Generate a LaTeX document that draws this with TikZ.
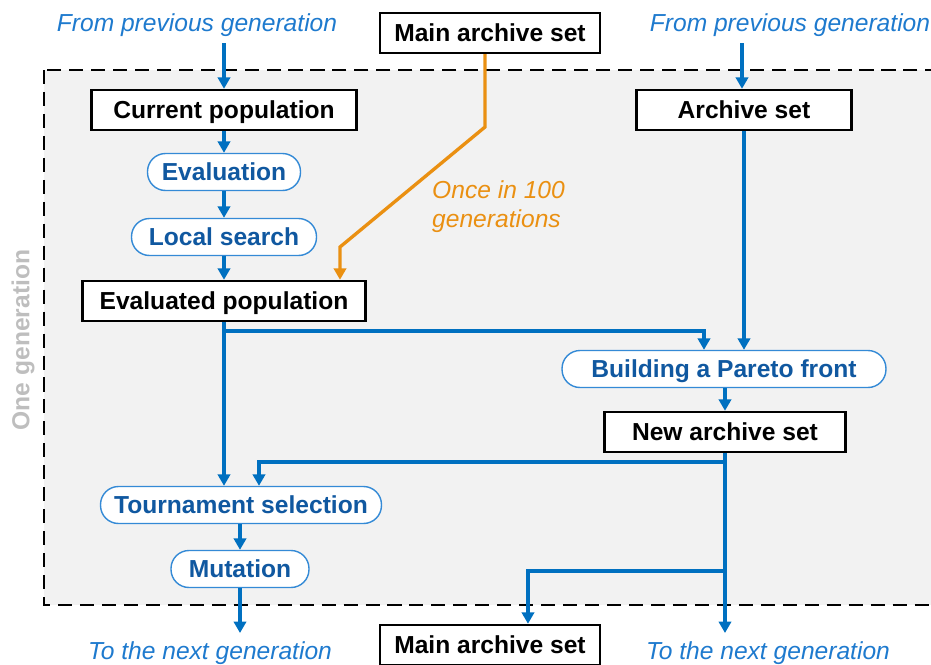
\documentclass[tikz,border=0pt]{standalone}
\usepackage{fontspec}
\setmainfont{Liberation Sans}
\usetikzlibrary{arrows.meta}

\definecolor{flowblue}{RGB}{0,112,192}
\definecolor{proctext}{RGB}{16,88,160}
\definecolor{procline}{RGB}{52,138,214}
\definecolor{labelblue}{RGB}{30,122,206}
\definecolor{rareorange}{RGB}{234,144,18}
\definecolor{genfill}{RGB}{242,242,242}
\definecolor{gentext}{RGB}{190,190,190}

\begin{document}
\begin{tikzpicture}[x=0.02cm, y=-0.02cm,
        databox/.style={draw, line width=1.4pt, fill=white, inner sep=0pt,
            minimum height=0.8cm, text height=12.5pt, text depth=2.5pt,
            font=\fontsize{14}{16}\selectfont\bfseries},
        procbox/.style={draw=procline, line width=0.8pt, fill=white, inner sep=0pt,
            rounded corners=0.36cm, minimum height=0.74cm, text=proctext,
            text height=12.5pt, text depth=2.5pt,
            font=\fontsize{14}{16}\selectfont\bfseries},
        note/.style={text=labelblue, text height=12.5pt, text depth=2.5pt,
            font=\fontsize{14}{16}\selectfont\itshape},
        flow/.style={draw=flowblue, line width=1.9pt, -{Triangle[length=6.5pt,width=7pt]}},
        rare/.style={draw=rareorange, line width=1.9pt, -{Triangle[length=6.5pt,width=7pt]}}]
        \useasboundingbox (0,0) rectangle (931,664);

        % one generation
        \draw[fill=genfill, line width=1.4pt, dash pattern=on 8pt off 4.5pt] (44,70) rectangle (945,605);
        \node[rotate=90, text=gentext, font=\fontsize{14}{16}\selectfont\bfseries] (onegen) at (23,340) {One generation};

        % inputs
        \node[note] (fromL) at (197,23) {From previous generation};
        \node[note] (fromR) at (790,23) {From previous generation};
        \node[databox, minimum width=4.4cm] (maintop) at (490,33) {Main archive set};
        \coordinate (inL) at (224,43);
        \coordinate (inR) at (742,43);

        % left column
        \node[databox, minimum width=5.3cm] (curpop) at (224,110) {Current population};
        \node[procbox, minimum width=3.06cm] (evaluation) at (224,172) {Evaluation};
        \node[procbox, minimum width=3.7cm] (localsearch) at (224,237) {Local search};
        \node[databox, minimum width=5.66cm] (evalpop) at (224,301) {Evaluated population};
        \node[procbox, minimum width=5.62cm] (tournament) at (241,505) {Tournament selection};
        \node[procbox, minimum width=2.76cm] (mutation) at (240,569) {Mutation};

        % right column
        \node[databox, minimum width=4.3cm] (archive) at (744,110) {Archive set};
        \node[procbox, minimum width=6.48cm] (pareto) at (724,369) {Building a Pareto front};
        \node[databox, minimum width=4.82cm] (newarchive) at (725,432) {New archive set};

        % outputs
        \node[databox, minimum width=4.4cm] (mainbot) at (490,645) {Main archive set};
        \node[note] (toL) at (210,651) {To the next generation};
        \node[note] (toR) at (768,651) {To the next generation};
        \coordinate (outL) at (240,633);
        \coordinate (outR) at (725,633);

        \node[text=rareorange, font=\fontsize{14}{16.5}\selectfont\itshape, align=left, anchor=west] (rarelbl) at (426,207) {Once in 100\\generations};

        % branch points
        \coordinate (split1) at (224,331);
        \coordinate (split2) at (725,462);
        \coordinate (split3) at (725,571);
        \coordinate (bend1) at (485,127);
        \coordinate (bend2) at (340,247);

        \draw[flow] (inL) -- (curpop);
        \draw[flow] (inR) -- (inR |- archive.north);
        \draw[flow] (curpop) -- (evaluation);
        \draw[flow] (evaluation) -- (localsearch);
        \draw[flow] (localsearch) -- (evalpop);
        \draw[flow] (evalpop.south) -- (evalpop.south |- tournament.north);
        \draw[flow] (split1) -| ([xshift=-0.4cm]pareto.north);
        \draw[flow] (archive.south) -- (archive.south |- pareto.north);
        \draw[flow] (pareto.south -| newarchive.north) -- (newarchive.north);
        \draw[flow] (newarchive.south) -- (outR);
        \draw[flow] (split2) -| ([xshift=0.36cm]tournament.north);
        \draw[flow] (split3) -| ([xshift=0.76cm]mainbot.north);
        \draw[flow] (tournament.south -| mutation.north) -- (mutation.north);
        \draw[flow] (mutation.south) -- (outL);
        \draw[rare] ([xshift=-0.1cm]maintop.south) -- (bend1) -- (bend2) -- (bend2 |- evalpop.north);
\end{tikzpicture}
\end{document}
